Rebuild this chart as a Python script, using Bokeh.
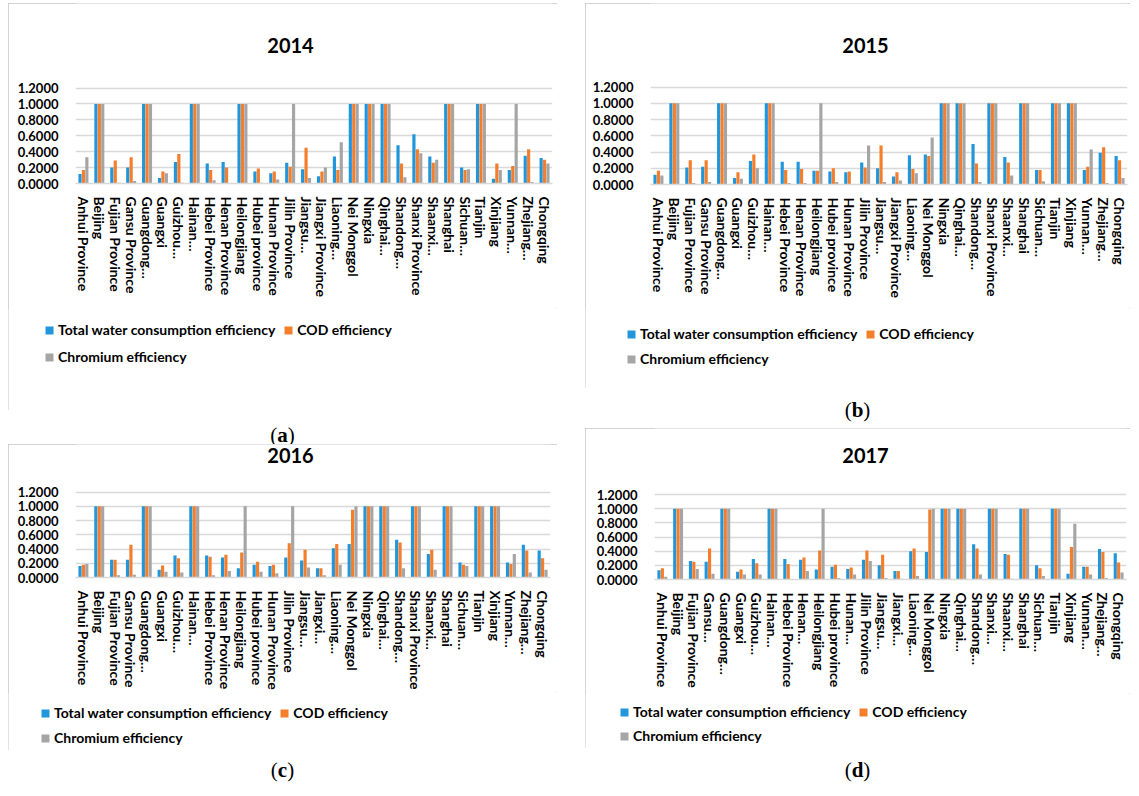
from bokeh.plotting import figure
from bokeh.models import (ColumnDataSource, Range1d, FactorRange, FixedTicker,
                          NumeralTickFormatter, Label, Legend, LegendItem, Div, Spacer)
from bokeh.layouts import row, column
from bokeh.transform import dodge
from bokeh.embed import file_html
from bokeh.resources import INLINE

E = "\u2026"
labels_2014 = ["Anhui Province", "Beijing", "Fujian Province", "Gansu Province", "Guangdong" + E,
               "Guangxi", "Guizhou" + E, "Hainan" + E, "Hebei Province", "Henan Province",
               "Heilongjiang", "Hubei province", "Hunan Province", "Jilin Province", "Jiangsu" + E,
               "Jiangxi Province", "Liaoning" + E, "Nei Monggol", "Ningxia", "Qinghai" + E,
               "Shandong" + E, "Shanxi Province", "Shaanxi" + E, "Shanghai", "Sichuan" + E,
               "Tianjin", "Xinjiang", "Yunnan" + E, "Zhejiang" + E, "Chongqing"]
labels_2015 = list(labels_2014)
labels_2016 = ["Anhui Province", "Beijing", "Fujian Province", "Gansu Province", "Guangdong" + E,
               "Guangxi", "Guizhou" + E, "Hainan" + E, "Hebei Province", "Henan Province",
               "Heilongjiang", "Hubei province", "Hunan Province", "Jilin Province", "Jiangsu" + E,
               "Jiangxi" + E, "Liaoning" + E, "Nei Monggol", "Ningxia", "Qinghai" + E,
               "Shandong" + E, "Shanxi Province", "Shaanxi" + E, "Shanghai", "Sichuan" + E,
               "Tianjin", "Xinjiang", "Yunnan" + E, "Zhejiang" + E, "Chongqing"]
labels_2017 = ["Anhui Province", "Beijing", "Fujian Province", "Gansu" + E, "Guangdong" + E,
               "Guangxi", "Guizhou" + E, "Hainan" + E, "Hebei Province", "Henan" + E,
               "Heilongjiang", "Hubei province", "Hunan" + E, "Jilin Province", "Jiangsu" + E,
               "Jiangxi" + E, "Liaoning" + E, "Nei Monggol", "Ningxia", "Qinghai" + E,
               "Shandong" + E, "Shanxi" + E, "Shaanxi" + E, "Shanghai", "Sichuan" + E,
               "Tianjin", "Xinjiang", "Yunnan" + E, "Zhejiang" + E, "Chongqing"]

water_2014 = [0.12, 1, 0.20, 0.20, 1, 0.07, 0.27, 1, 0.25, 0.27, 1, 0.15, 0.13, 0.26, 0.18,
              0.09, 0.34, 1, 1, 1, 0.48, 0.62, 0.34, 1, 0.20, 1, 0.06, 0.17, 0.35, 0.32]
cod_2014 = [0.17, 1, 0.29, 0.33, 1, 0.15, 0.37, 1, 0.17, 0.20, 1, 0.19, 0.15, 0.21, 0.45,
            0.15, 0.17, 1, 1, 1, 0.25, 0.43, 0.26, 1, 0.17, 1, 0.25, 0.22, 0.43, 0.30]
chrom_2014 = [0.33, 1, 0.01, 0.03, 1, 0.13, 0.01, 1, 0.04, 0.0, 1, 0.01, 0.05, 1.0, 0.07,
              0.20, 0.52, 1, 1, 1, 0.08, 0.38, 0.30, 1, 0.18, 1, 0.17, 1.0, 0.02, 0.25]

water_2015 = [0.12, 1, 0.21, 0.22, 1, 0.08, 0.29, 1, 0.28, 0.28, 0.17, 0.16, 0.15, 0.27, 0.20,
              0.10, 0.36, 0.37, 1, 1, 0.50, 1, 0.34, 1, 0.18, 1, 1, 0.18, 0.39, 0.35]
cod_2015 = [0.17, 1, 0.30, 0.30, 1, 0.15, 0.37, 1, 0.18, 0.19, 0.17, 0.20, 0.16, 0.21, 0.48,
            0.15, 0.19, 0.35, 1, 1, 0.26, 1, 0.27, 1, 0.18, 1, 1, 0.22, 0.46, 0.30]
chrom_2015 = [0.11, 1, 0.02, 0.03, 1, 0.07, 0.20, 1, 0.02, 0.02, 1.0, 0.03, 0.0, 0.48, 0.03,
              0.05, 0.14, 0.58, 1, 1, 0.03, 1, 0.11, 1, 0.04, 1, 1, 0.43, 0.02, 0.08]

water_2016 = [0.16, 1, 0.25, 0.25, 1, 0.11, 0.31, 1, 0.31, 0.28, 0.13, 0.18, 0.16, 0.28, 0.24,
              0.13, 0.41, 0.47, 1, 1, 0.53, 1, 0.33, 1, 0.21, 1, 1, 0.21, 0.46, 0.38]
cod_2016 = [0.18, 1, 0.25, 0.46, 1, 0.17, 0.27, 1, 0.29, 0.32, 0.35, 0.22, 0.18, 0.48, 0.39,
            0.13, 0.47, 0.95, 1, 1, 0.49, 1, 0.39, 1, 0.18, 1, 1, 0.19, 0.38, 0.27]
chrom_2016 = [0.19, 1, 0.03, 0.04, 1, 0.08, 0.07, 1, 0.03, 0.09, 1.0, 0.08, 0.06, 1.0, 0.14,
              0.03, 0.18, 1.0, 1, 1, 0.13, 1, 0.11, 1, 0.16, 1, 1, 0.33, 0.07, 0.11]

water_2017 = [0.13, 1, 0.26, 0.25, 1, 0.11, 0.29, 1, 0.29, 0.28, 0.14, 0.18, 0.15, 0.28, 0.20,
              0.12, 0.40, 0.39, 1, 1, 0.50, 1, 0.36, 1, 0.20, 1, 0.08, 0.18, 0.43, 0.37]
cod_2017 = [0.16, 1, 0.25, 0.44, 1, 0.14, 0.23, 1, 0.22, 0.31, 0.41, 0.21, 0.17, 0.41, 0.35,
            0.12, 0.44, 0.99, 1, 1, 0.44, 1, 0.35, 1, 0.16, 1, 0.46, 0.18, 0.39, 0.24]
chrom_2017 = [0.04, 1, 0.15, 0.08, 1, 0.07, 0.07, 1, 0.0, 0.12, 1.0, 0.02, 0.07, 0.26, 0.02,
              0.01, 0.05, 1.0, 1, 1, 0.07, 1, 0.01, 1, 0.05, 1, 0.79, 0.07, 0.02, 0.10]

y_ticks = [0.0, 0.2, 0.4, 0.6, 0.8, 1.0, 1.2]
series_names = ["Total water consumption efficiency", "COD efficiency", "Chromium efficiency"]

BLUE = "#2196DA"
ORANGE = "#F47E2C"
GRAY = "#A5A5A5"
GRID = "#D9D9D9"
FONT = "Lato"
BOX = {"outline": "1px solid #C4C4C4", "outline-offset": "-1px"}


def panel(year, labels, w, c, cr, W, HM, HL, fl, fr, fbm, ytop, tx, ty, lx, l1, l2):
    # main chart: frame reaches the top of the canvas (blank above 1.2) so the title sits in it
    p = figure(width=W, height=HM, x_range=FactorRange(factors=labels, range_padding=0),
               y_range=Range1d(0, ytop), output_backend="svg", toolbar_location=None,
               min_border=0)
    p.min_border_left = fl
    p.min_border_right = fr
    p.min_border_top = 0
    p.min_border_bottom = fbm
    p.outline_line_color = None

    src = ColumnDataSource(dict(cat=labels, w=w, c=c, cr=cr))
    specs = [("w", -0.215, BLUE), ("c", 0.0, ORANGE), ("cr", 0.215, GRAY)]
    for col, off, colr in specs:
        p.vbar(x=dodge("cat", off, range=p.x_range), top=col, width=0.2,
               source=src, fill_color=colr, line_color=None)

    p.xgrid.grid_line_color = None
    p.ygrid.grid_line_color = GRID
    p.ygrid.grid_line_width = 1.5
    p.yaxis.ticker = FixedTicker(ticks=y_ticks)
    p.yaxis.formatter = NumeralTickFormatter(format="0.0000")
    p.yaxis.axis_line_color = None
    p.yaxis.major_tick_line_color = None
    p.yaxis.minor_tick_line_color = None
    p.yaxis.major_label_text_font = FONT
    p.yaxis.major_label_text_font_style = "bold"
    p.yaxis.major_label_text_font_size = "13px"
    p.yaxis.major_label_text_color = "black"
    p.yaxis.major_label_standoff = 11

    p.xaxis.axis_line_color = GRID
    p.xaxis.axis_line_width = 1.5
    p.xaxis.major_tick_line_color = None
    p.xaxis.minor_tick_line_color = None
    p.xaxis.major_label_orientation = "vertical"
    p.xaxis.major_label_text_font = FONT
    p.xaxis.major_label_text_font_style = "bold"
    p.xaxis.major_label_text_font_size = "14px"
    p.xaxis.major_label_text_color = "black"
    p.xaxis.major_label_standoff = 7

    p.add_layout(Label(x=tx, y=ty, x_units="screen", y_units="screen", text=year,
                       text_align="center", text_baseline="middle", text_font=FONT,
                       text_font_style="bold", text_font_size="20px", text_color="black"))

    # legend strip: the same series, drawn out of its visible range, only to key the legend
    q = figure(width=W, height=HL, x_range=p.x_range, y_range=Range1d(10, 11),
               output_backend="svg", toolbar_location=None, min_border=0,
               x_axis_location=None, y_axis_location=None)
    q.outline_line_color = None
    q.grid.visible = False
    keys = [q.vbar(x=dodge("cat", off, range=q.x_range), top=col, width=0.2,
                   source=src, fill_color=colr, line_color=None)
            for col, off, colr in specs]
    common = dict(orientation="horizontal", padding=0, margin=0, spacing=8,
                  glyph_width=10, glyph_height=10, label_height=10, label_standoff=4,
                  label_text_font=FONT, label_text_font_style="bold",
                  label_text_font_size="14px", label_text_color="black",
                  border_line_color=None, background_fill_alpha=0)
    leg1 = Legend(items=[LegendItem(label=series_names[0], renderers=[keys[0]]),
                         LegendItem(label=series_names[1], renderers=[keys[1]])],
                  location=(lx, l1), **common)
    leg2 = Legend(items=[LegendItem(label=series_names[2], renderers=[keys[2]])],
                  location=(lx, l2), **common)
    q.add_layout(leg1, "center")
    q.add_layout(leg2, "center")
    return column(row(p), row(q), styles=BOX)


pa = panel("2014", labels_2014, water_2014, cod_2014, chrom_2014,
           549, 305, 102, 67, 5, 125, 2.263, 215, 138, 36, 72, 45)
pb = panel("2015", labels_2015, water_2015, cod_2015, chrom_2015,
           545, 305, 80, 65, 3, 124, 2.229, 215, 139, 41, 46, 21)
pc = panel("2016", labels_2016, water_2016, cod_2016, chrom_2016,
           549, 248, 58, 67, 7, 114, 1.867, 215, 122, 32, 29, 4)
pd_ = panel("2017", labels_2017, water_2017, cod_2017, chrom_2017,
            545, 265, 55, 69, 4, 114, 2.136, 211, 124, 34, 28, 4)


def caption(letter, w, h, lh):
    return Div(text="(<b>%s</b>)" % letter, width=w, height=h, margin=0,
               styles={"font-family": "Liberation Serif", "font-size": "21px",
                       "text-align": "center", "line-height": "%dpx" % lh,
                       "color": "black"})


left = column(Spacer(height=3), pa, caption("a", 549, 34, 50), pc,
              caption("c", 549, 40, 40))
right = column(Spacer(height=3), pb, caption("b", 545, 40, 44), pd_,
               caption("d", 545, 42, 44))
root = row(Spacer(width=8), left, Spacer(width=28), right)

open("out.html", "w").write(file_html(root, INLINE))
